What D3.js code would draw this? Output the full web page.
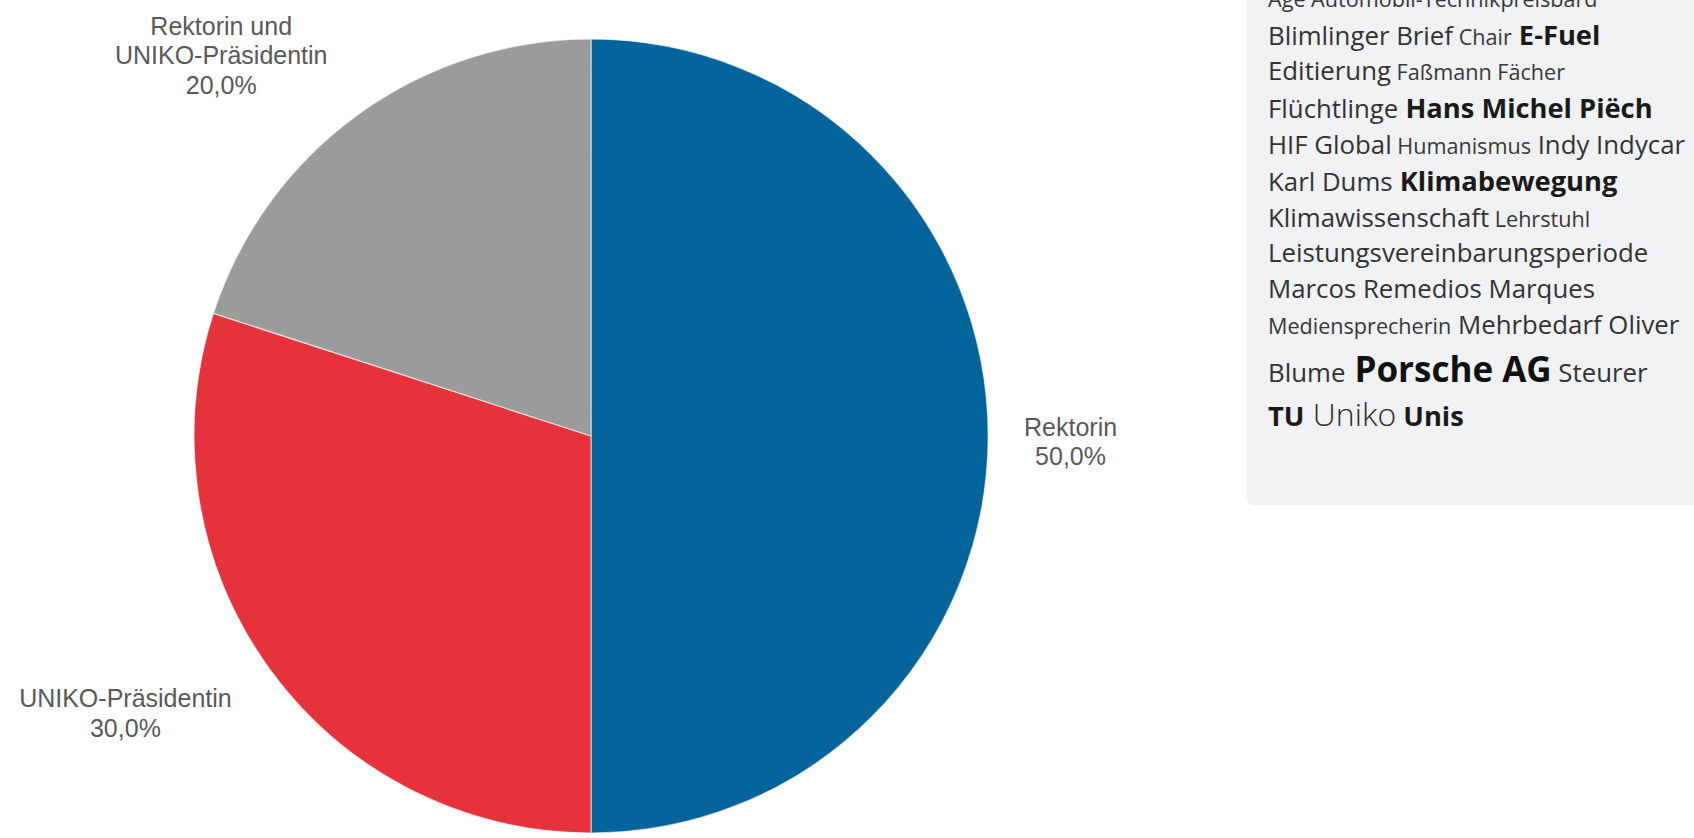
<!DOCTYPE html>
<html>
<head>
<meta charset="utf-8">
<script src="https://cdn.jsdelivr.net/npm/d3@7/dist/d3.min.js"></script>
<style>
  html, body { margin: 0; padding: 0; background: #ffffff; overflow: hidden; }
  svg { display: block; }
</style>
</head>
<body>
<svg id="chart" width="1694" height="838"></svg>
<script>
// Pie data: share of mentions by role
const categories = ["Rektorin", "UNIKO-Präsidentin", "Rektorin und UNIKO-Präsidentin"];
const values = [50, 30, 20];
const sliceColors = ["#03649c", "#e6323a", "#9b9b9b"];

// Tag cloud: words per line with their weight level (1 = rare … 5 = most frequent)
const cloudLines = [
  [["Age", 1], ["Automobil-Technikpreisbard", 1]],
  [["Blimlinger", 2], ["Brief", 2], ["Chair", 1], ["E-Fuel", 3]],
  [["Editierung", 2], ["Faßmann", 1], ["Fächer", 1]],
  [["Flüchtlinge", 2], ["Hans Michel Piëch", 3]],
  [["HIF Global", 2], ["Humanismus", 1], ["Indy", 2], ["Indycar", 2]],
  [["Karl Dums", 2], ["Klimabewegung", 3]],
  [["Klimawissenschaft", 2], ["Lehrstuhl", 1]],
  [["Leistungsvereinbarungsperiode", 2]],
  [["Marcos Remedios Marques", 2]],
  [["Mediensprecherin", 1], ["Mehrbedarf", 2], ["Oliver", 2]],
  [["Blume", 2], ["Porsche AG", 5], ["Steurer", 2]],
  [["TU", 3], ["Uniko", 4], ["Unis", 3]]
];

const W = 1694, H = 838;
const svg = d3.select("#chart");

// ---------- Pie ----------
const cx = 591, cy = 436, radius = 397;
const g = svg.append("g").attr("transform", `translate(${cx},${cy})`);

const pie = d3.pie().sort(null).value(d => d);
const arcs = pie(values);
const arc = d3.arc().innerRadius(0).outerRadius(radius);

g.selectAll("path.slice")
  .data(arcs)
  .join("path")
  .attr("class", "slice")
  .attr("d", arc)
  .attr("fill", (d, i) => sliceColors[i])
  .attr("stroke", "#ffffff")
  .attr("stroke-opacity", 0.6)
  .attr("stroke-width", 1.2);

// German percent format: 50,0%
const de = d3.formatLocale({ decimal: ",", thousands: ".", grouping: [3], currency: ["", " €"] });
const pct = de.format(".1%");
const total = d3.sum(values);

const labelFont = 25, labelLH = 29.5, labelMaxW = 225;
const labelR = radius + 36;

// measure helper for wrapping
const measurer = svg.append("text")
  .attr("font-family", "'Liberation Sans', Arial, sans-serif")
  .attr("font-size", labelFont)
  .attr("visibility", "hidden");
function textW(s) { measurer.text(s); return measurer.node().getComputedTextLength(); }
function wrap(s) {
  const words = s.split(" ");
  const lines = [];
  let cur = "";
  words.forEach(w => {
    const t = cur ? cur + " " + w : w;
    if (cur && textW(t) > labelMaxW) { lines.push(cur); cur = w; } else { cur = t; }
  });
  if (cur) lines.push(cur);
  return lines;
}

arcs.forEach((d, i) => {
  const lines = wrap(categories[i]).concat([pct(d.value / total)]);
  const widths = lines.map(textW);
  const w = d3.max(widths);
  const h = lines.length * labelLH;
  const a = (d.startAngle + d.endAngle) / 2;
  const dx = Math.sin(a), dy = -Math.cos(a);
  const ax = dx * labelR, ay = dy * labelR;
  // push the label block outward so its nearest edge sits on the anchor
  const bx = ax + Math.sign(dx) * w / 2 * Math.min(1, Math.abs(dx) * 3) + (dx < 0 ? -9 : 0);
  const by = ay + dy * h / 2;
  const top = by - h / 2;
  const t = g.append("text")
    .attr("font-family", "'Liberation Sans', Arial, sans-serif")
    .attr("font-size", labelFont)
    .attr("fill", "#595959")
    .attr("text-anchor", "middle");
  lines.forEach((ln, j) => {
    t.append("tspan")
      .attr("x", bx)
      .attr("y", top + 29 + j * labelLH)
      .text(ln);
  });
});
measurer.remove();

// ---------- Tag cloud panel ----------
const panelX = 1247, panelBottom = 505;
svg.append("rect")
  .attr("x", panelX)
  .attr("y", -12)
  .attr("width", W - panelX + 12)
  .attr("height", panelBottom + 12)
  .attr("rx", 6)
  .attr("fill", "#f0f1f3");

const levelSize = d3.scaleOrdinal().domain([1, 2, 3, 4, 5]).range([21.6, 25.8, 27.3, 32, 35]);
const levelWeight = d3.scaleOrdinal().domain([1, 2, 3, 4, 5]).range([400, 400, 700, 300, 700]);
const levelColor = d3.scaleOrdinal().domain([1, 2, 3, 4, 5]).range(["#383838", "#333333", "#1a1a1a", "#2a2a2a", "#111111"]);

const textX = 1268;
let baseline = 7;
cloudLines.forEach((line, li) => {
  if (li > 0) baseline += d3.max(line, w => levelSize(w[1])) * 1.38;
  const t = svg.append("text")
    .attr("x", textX)
    .attr("y", baseline)
    .attr("font-family", "'Open Sans', 'Noto Sans', sans-serif")
    .style("white-space", "pre");
  line.forEach(([word, lvl], wi) => {
    t.append("tspan")
      .attr("font-size", levelSize(lvl))
      .attr("font-weight", levelWeight(lvl))
      .attr("fill", levelColor(lvl))
      .text((wi > 0 ? " " : "") + word);
  });
});
</script>
</body>
</html>
